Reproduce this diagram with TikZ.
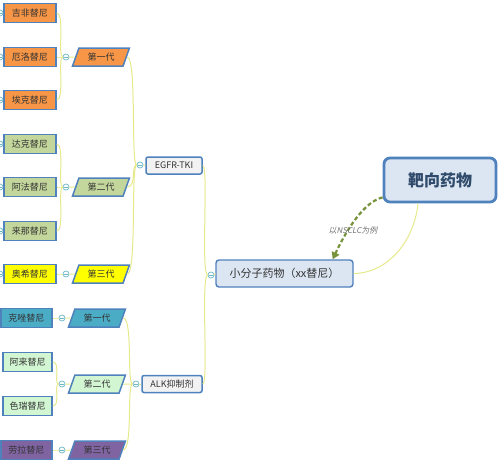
\documentclass[tikz,border=0pt]{standalone}
\usepackage{fontspec}
\setmainfont{Noto Sans CJK SC}
\newfontfamily\cjkit[FakeSlant=0.2]{Noto Sans CJK SC}
\usetikzlibrary{shapes.geometric,arrows.meta,calc}
\definecolor{bord}{HTML}{4F81BD}
\definecolor{rootfill}{HTML}{DCE6F2}
\definecolor{boxfill}{HTML}{F2F2F2}
\definecolor{orng}{HTML}{F79646}
\definecolor{olive}{HTML}{C3D69B}
\definecolor{yel}{HTML}{FFFF00}
\definecolor{teal1}{HTML}{4BACC6}
\definecolor{mint}{HTML}{D2F5D2}
\definecolor{purp}{HTML}{8064A2}
\definecolor{lin}{HTML}{E6E98A}
\definecolor{tog}{HTML}{6DB8C8}
\definecolor{arr}{HTML}{77933C}
\definecolor{txt}{HTML}{333333}
\definecolor{roottxt}{HTML}{2F4A6B}
\begin{document}
\begin{tikzpicture}[x={(1pt,0)},y={(0,-1pt)},
  leaf/.style={rectangle,draw=bord,line width=1.5pt,minimum width=52pt,minimum height=19pt,inner sep=0pt,font=\fontsize{9}{10}\selectfont,text=txt},
  gen/.style={trapezium,trapezium left angle=65,trapezium right angle=115,trapezium stretches=true,draw=bord,line width=1.5pt,minimum width=57pt,minimum height=18pt,inner sep=0pt,font=\fontsize{9}{10}\selectfont,text=txt},
  mid/.style={rectangle,rounded corners=2pt,draw=bord,line width=1.5pt,fill=boxfill,minimum height=17pt,inner sep=0pt,font=\fontsize{9}{10}\selectfont,text=txt},
  togc/.style={circle,draw=tog,fill=white,line width=0.7pt,minimum size=6pt,inner sep=0pt,
    path picture={\draw[tog,line width=0.6pt] ([xshift=-1.6pt]path picture bounding box.center) -- ([xshift=1.6pt]path picture bounding box.center);}},
  conn/.style={draw=lin,line width=1pt}]
\useasboundingbox (0,0) rectangle (499,469);

% root and main
\node[rectangle,rounded corners=6pt,draw=bord,line width=2.8pt,fill=rootfill,minimum width=112pt,minimum height=44pt,font=\fontsize{16}{18}\selectfont\bfseries,text=roottxt] (root) at (440,180) {靶向药物};
\node[rectangle,rounded corners=3pt,draw=bord,line width=1.4pt,fill=rootfill,minimum width=137pt,minimum height=27pt,inner sep=0pt,font=\fontsize{11}{12}\selectfont,text=txt] (small) at (284.5,273.5) {小分子药物（xx替尼）};
\node[togc] (sc) at (211,275) {};

\node[mid,minimum width=56pt] (egfr) at (174,165.5) {EGFR-TKI};
\node[togc] (egfrc) at (140,165) {};
\node[mid,minimum width=60pt] (alk) at (172,384) {ALK抑制剂};
\node[togc] (alkc) at (136,384) {};

% EGFR generations
\node[gen,fill=orng] (e1) at (101,57) {第一代};
\node[gen,fill=olive] (e2) at (101,187) {第二代};
\node[gen,fill=yel] (e3) at (101,274) {第三代};
\node[togc] (e1c) at (66,57) {};
\node[togc] (e2c) at (66,187) {};
\node[togc] (e3c) at (66,274) {};

% EGFR leaves
\node[leaf,fill=orng] (l1) at (30,13) {吉非替尼};
\node[leaf,fill=orng] (l2) at (30,57) {厄洛替尼};
\node[leaf,fill=orng] (l3) at (30,100) {埃克替尼};
\node[leaf,fill=olive] (l4) at (30,144) {达克替尼};
\node[leaf,fill=olive] (l5) at (30,187) {阿法替尼};
\node[leaf,fill=olive] (l6) at (30,231) {来那替尼};
\node[leaf,fill=yel] (l7) at (30,274) {奥希替尼};
\foreach \n/\y in {1/13,2/57,3/100,4/144,5/187,6/231,7/274}{
  \node[togc] (lc\n) at (0,\y) {};
}

% ALK generations
\node[gen,fill=teal1] (a1) at (97,318) {第一代};
\node[gen,fill=mint] (a2) at (97,384) {第二代};
\node[gen,fill=purp] (a3) at (97,450) {第三代};
\node[togc] (a1c) at (62,318) {};
\node[togc] (a2c) at (62,384) {};
\node[togc] (a3c) at (62,450) {};

% ALK leaves
\node[leaf,fill=teal1,minimum width=51pt] (m1) at (26.5,318) {克唑替尼};
\node[leaf,fill=mint,minimum width=49pt] (m2) at (27.5,362) {阿来替尼};
\node[leaf,fill=mint,minimum width=49pt] (m3) at (27.5,406) {色瑞替尼};
\node[leaf,fill=purp,minimum width=51pt] (m4) at (26.5,450) {劳拉替尼};

% connectors
\path (root.south)+(-22,0) coordinate (rs);
\draw[conn] (rs) .. controls ($(rs)+(-4,40)$) and ($(small.east)+(32,0)$) .. (small.east);
\draw[conn] (small.west) -- (sc.east);
\draw[conn] (sc.west) .. controls ($(sc.west)+(-7,0)$) and ($(egfr.east)+(6,0)$) .. (egfr.east);
\draw[conn] (sc.west) .. controls ($(sc.west)+(-7,0)$) and ($(alk.east)+(6,0)$) .. (alk.east);
\draw[conn] (egfr.west) -- (egfrc.east);
\draw[conn] (alk.west) -- (alkc.east);

\foreach \g in {e1,e2,e3}{
  \draw[conn] (egfrc.west) .. controls ($(egfrc.west)+(-6,0)$) and ($(\g.east)+(10,0)$) .. (\g.east);
  \draw[conn] (\g.west) -- (\g c.east);
}
\foreach \g in {a1,a2,a3}{
  \draw[conn] (alkc.west) .. controls ($(alkc.west)+(-6,0)$) and ($(\g.east)+(10,0)$) .. (\g.east);
  \draw[conn] (\g.west) -- (\g c.east);
}
\foreach \c/\l in {e1c/l1,e1c/l2,e1c/l3,e2c/l4,e2c/l5,e2c/l6,e3c/l7,a1c/m1,a2c/m2,a2c/m3,a3c/m4}{
  \draw[conn] (\c.west) .. controls ($(\c.west)+(-5,0)$) and ($(\l.east)+(8,0)$) .. (\l.east);
}

% dashed arrow
\coordinate (as) at ($(root.south west)+(0,-6)$);
\coordinate (ae) at ($(small.north east)+(-21,0)$);
\draw[arr,line width=2.2pt,dashed,dash pattern=on 4pt off 2.5pt,-{Triangle[length=7pt,width=8pt]}] (as) .. controls ($(as)+(-18,4)$) and ($(ae)+(14,-30)$) .. (ae);
\node[font=\cjkit\fontsize{8}{9}\selectfont,text=black!55] (lab) at (353,230) {以NSCLC为例};
\end{tikzpicture}
\end{document}
